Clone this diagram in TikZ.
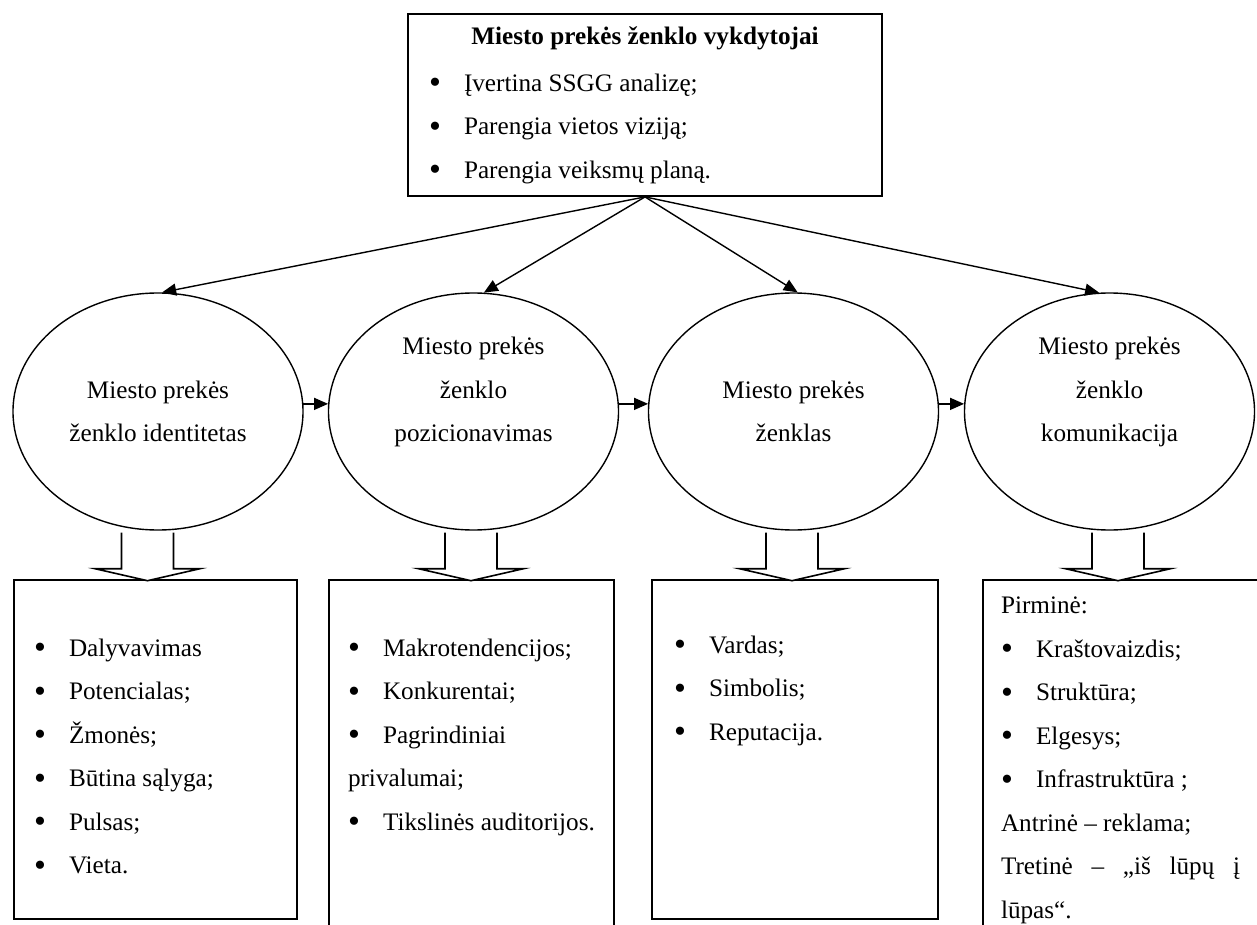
\documentclass[tikz,border=0pt]{standalone}
\usepackage{fontspec}
\setmainfont{Liberation Serif}
\usetikzlibrary{positioning,arrows.meta,calc,shapes.geometric}
\newcommand{\lbul}{\makebox[17.5pt][l]{\raisebox{-0.09em}{\scalebox{1.35}{•}}}}

\begin{document}
\begin{tikzpicture}[
    x=0.5pt, y=-0.5pt,
    every node/.style={font=\fontsize{12.6}{21.75}\selectfont},
    topbox/.style={
        rectangle, draw=black, line width=0.9pt,
        minimum width=237pt, minimum height=91pt, inner sep=0pt
    },
    stage/.style={
        ellipse, draw=black, line width=0.7pt,
        minimum width=145pt, minimum height=118.5pt,
        inner sep=0pt, align=center
    },
    itembox/.style={rectangle, draw=black, line width=0.9pt, inner sep=0pt},
    list/.style={anchor=north west, inner sep=0pt, align=left},
    arr/.style={-{Triangle[length=7pt,width=6pt]}, line width=0.7pt},
    fatarr/.style={draw=black, fill=white, line width=0.8pt, line join=miter},
]

\useasboundingbox (0,0) rectangle (1257,925);
\clip (0,0) rectangle (1257,925);

% -- Top: who carries out the brand --
\node[topbox] (top) at (645,105) {};
\node (title) at (645,38) {\textbf{Miesto prekės ženklo vykdytojai}};
\node[list] (tasks) at (428.6,73.5)
    {\lbul Įvertina SSGG analizę;\\ \lbul Parengia vietos viziją;\\ \lbul Parengia veiksmų planą.};

% -- Stages --
\node[stage] (e1) at (158,411.5)    {Miesto prekės\\ženklo identitetas};
\node[stage] (e2) at (473.5,411.5)  {Miesto prekės\\ženklo\\pozicionavimas\\\mbox{}};
\node[stage] (e3) at (793.5,411.5)  {Miesto prekės\\ženklas};
\node[stage] (e4) at (1109.5,411.5) {Miesto prekės\\ženklo\\komunikacija\\\mbox{}};

\draw[arr] (top.south) -- (e1.88);
\draw[arr] (top.south) -- (e2.85);
\draw[arr] (top.south) -- (e3.88);
\draw[arr] (top.south) -- (e4.95);

\draw[arr] (e1.3) -- (e2.177);
\draw[arr] (e2.3) -- (e3.177);
\draw[arr] (e3.3) -- (e4.177);

% -- Bottom boxes --
\node[itembox, minimum width=141.5pt, minimum height=169.5pt] (b1) at (155.5,749.5) {};
\node[itembox, minimum width=142.5pt, minimum height=180pt]   (b2) at (471.5,760) {};
\node[itembox, minimum width=143pt,   minimum height=169.5pt] (b3) at (795,749.5) {};
\node[itembox, minimum width=148.5pt, minimum height=180pt]   (b4) at (1131.5,760) {};

\node[list] (l1) at (33.6,638.5)
    {\lbul Dalyvavimas\\ \lbul Potencialas;\\ \lbul Žmonės;\\ \lbul Būtina sąlyga;\\
     \lbul Pulsas;\\ \lbul Vieta.};
\node[list] (l2) at (347.6,638.5)
    {\lbul Makrotendencijos;\\ \lbul Konkurentai;\\ \lbul Pagrindiniai\\ privalumai;\\
     \lbul Tikslinės auditorijos.};
\node[list] (l3) at (673.6,635.5)
    {\lbul Vardas;\\ \lbul Simbolis;\\ \lbul Reputacija.};
\node[list] (l4) at (1000.6,596.7)
    {Pirminė:\\ \lbul Kraštovaizdis;\\ \lbul Struktūra;\\ \lbul Elgesys;\\
     \lbul Infrastruktūra ;\\ Antrinė – reklama;\\
     \makebox[119.5pt][s]{Tretinė – „iš lūpų į}\\ lūpas“.};

% -- Block arrows stage -> box --
\foreach \e/\dx in {e1/-10.5, e2/-2.5, e3/-1.5, e4/8.5}
    \draw[fatarr] ($(\e.south)+(\dx,0)+(-26,2)$) -- ++(0,36) -- ++(-26.5,0)
        -- ++(52.5,12) -- ++(52.5,-12) -- ++(-26.5,0) -- ++(0,-36);

\end{tikzpicture}
\end{document}
